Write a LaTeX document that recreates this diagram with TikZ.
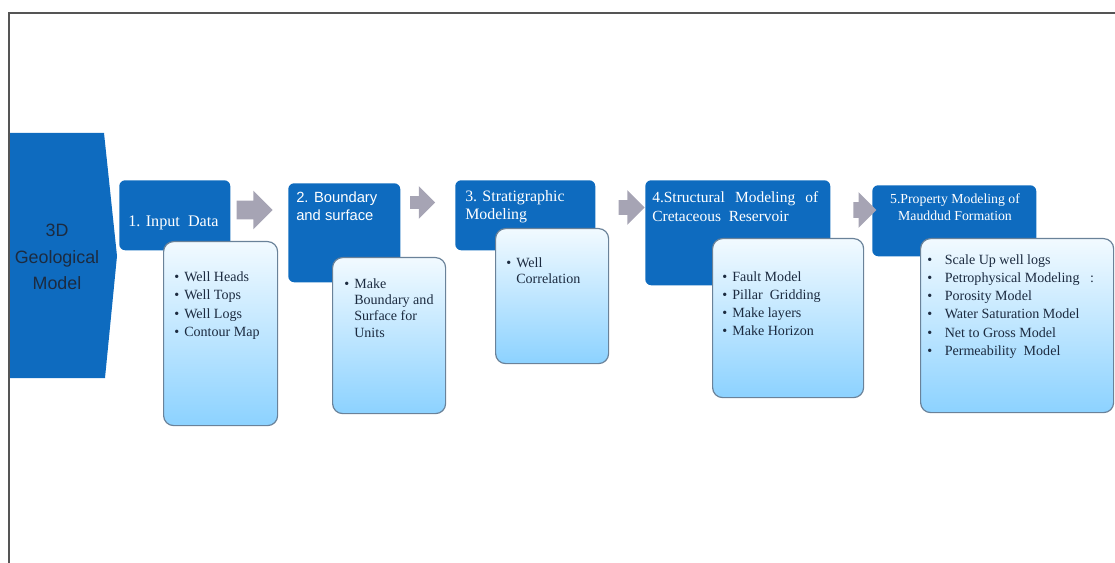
\documentclass[tikz,border=0pt]{standalone}
\usepackage{fontspec}
\setmainfont{Liberation Serif}
\setsansfont{Liberation Sans}
\usetikzlibrary{shapes.arrows}
\definecolor{geoblue}{HTML}{0E6BBF}
\definecolor{geoframe}{HTML}{555555}
\definecolor{geogray}{HTML}{A6A4B4}
\definecolor{geotop}{HTML}{F2FAFF}
\definecolor{geobottom}{HTML}{8CD2FF}
\definecolor{geoedge}{HTML}{6A8299}
\definecolor{geoink}{HTML}{1C2B40}
\newlength\px
\setlength\px{0.025cm}
\newcommand\bul[1][10]{\makebox[#1\px][l]{\textbullet}}

\begin{document}
\begin{tikzpicture}[
x=0.025cm, y=-0.025cm,
hdr/.style={fill=geoblue, rounded corners=6\px, anchor=north west, inner sep=0},
detail/.style={draw=geoedge, line width=1.2\px, top color=geotop, bottom color=geobottom, rounded corners=10\px, anchor=north west, inner sep=0},
hdrtxt/.style={text=white, anchor=north west, inner sep=0, align=left},
items/.style={text=geoink, anchor=north west, inner sep=0, align=left},
flow/.style={single arrow, fill=geogray, inner xsep=0, single arrow tip angle=90}
]
\useasboundingbox (0,0) rectangle (1115,563);

% main chevron
\fill[geoblue] (9,133) -- (104,133) -- (117,256) -- (105,378) -- (9,378) -- cycle;
\node[font=\sffamily\fontsize{12.7}{19}\selectfont, text=geoink, align=center, inner sep=0] (geo) at (57,257) {3D\\Geological\\Model};

% step headers
\node[hdr, minimum width=111\px, minimum height=70\px] (hdr1) at (119,180) {};
\node[hdr, minimum width=112\px, minimum height=99\px] (hdr2) at (288,183) {};
\node[hdr, minimum width=140\px, minimum height=70\px] (hdr3) at (455,180) {};
\node[hdr, minimum width=185\px, minimum height=105\px] (hdr4) at (645,180) {};
\node[hdr, minimum width=164\px, minimum height=71\px] (hdr5) at (872,185) {};

\node[hdrtxt, font=\fontsize{11.5}{13}\selectfont] (t1) at (128,216) {1. Input~ Data};
\node[hdrtxt, font=\sffamily\fontsize{10.5}{12.8}\selectfont] (t2) at (296,192) {2. Boundary\\and surface};
\node[hdrtxt, font=\fontsize{11.3}{12.8}\selectfont] (t3) at (465,190) {3. Stratigraphic\\Modeling};
\node[hdrtxt, font=\fontsize{11}{13.5}\selectfont] (t4) at (652,191) {\makebox[166\px][s]{4.Structural Modeling of}\\Cretaceous~ Reservoir};
\node[hdrtxt, font=\fontsize{9.8}{11.4}\selectfont, align=center, anchor=north] (t5) at (955,194) {5.Property Modeling of\\Mauddud Formation};

% detail boxes
\node[detail, minimum width=114\px, minimum height=184\px] (det1) at (163,241) {};
\node[detail, minimum width=113\px, minimum height=156\px] (det2) at (332,257) {};
\node[detail, minimum width=113\px, minimum height=135\px] (det3) at (495,228) {};
\node[detail, minimum width=151\px, minimum height=159\px] (det4) at (712,238) {};
\node[detail, minimum width=193\px, minimum height=174\px] (det5) at (920,238) {};

\node[items, font=\fontsize{10}{13.2}\selectfont] (l1) at (174,271) {\bul Well Heads\\\bul Well Tops\\\bul Well Logs\\\bul Contour Map};
\node[items, font=\fontsize{10}{11.7}\selectfont] (l2) at (344,278) {\bul Make\\\hspace*{10\px}Boundary and\\\hspace*{10\px}Surface for\\\hspace*{10\px}Units};
\node[items, font=\fontsize{10}{11.4}\selectfont] (l3) at (506,257) {\bul Well\\\hspace*{10\px}Correlation};
\node[items, font=\fontsize{10}{12.9}\selectfont] (l4) at (722,271) {\bul Fault Model\\\bul Pillar~ Gridding\\\bul Make layers\\\bul Make Horizon};
\node[items, font=\fontsize{10}{13}\selectfont] (l5) at (927,254) {\bul[14] Scale Up well logs\\\bul[14] Petrophysical Modeling~~ :\\\bul[14] Porosity Model\\\bul[14] Water Saturation Model\\\bul[14] Net to Gross Model\\\bul[14] Permeability~ Model};

% block arrows between steps
\node[flow, minimum height=36\px, minimum width=30\px, inner ysep=9\px] (a1) at (250,210) {};
\node[flow, minimum height=25\px, minimum width=21\px, inner ysep=6\px] (a2) at (419.5,202.5) {};
\node[flow, minimum height=26\px, minimum width=25\px, inner ysep=7\px] (a3) at (628,207.5) {};
\node[flow, minimum height=23\px, minimum width=26\px, inner ysep=7.5\px] (a4) at (861,210) {};

% frame
\draw[geoframe, line width=1.5\px] (9,563) -- (9,13) -- (1115,13);
\end{tikzpicture}
\end{document}
